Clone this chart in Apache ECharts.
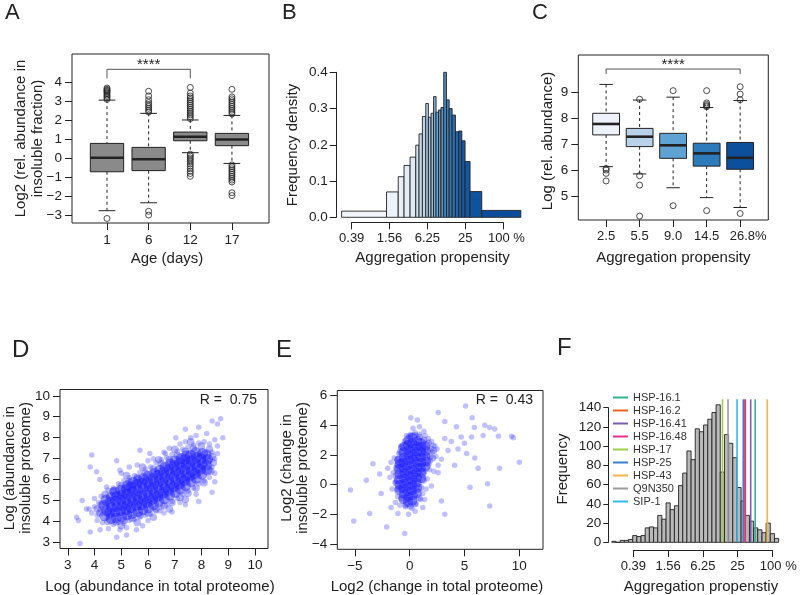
<!DOCTYPE html>
<html><head><meta charset="utf-8">
<script src="https://cdn.jsdelivr.net/npm/echarts@6/dist/echarts.min.js"></script>
<style>html,body{margin:0;padding:0;background:#fff}#c{width:800px;height:595px}</style>
</head><body><div id="c"></div><script>
// ================= DATA =================
// Panel A : insoluble fraction by age
const ageLabels = ['1', '6', '12', '17'];
const ageBoxes = [ // [lower whisker, Q1, median, Q3, upper whisker]
  [-2.77, -0.71, 0.03, 0.79, 3.08],
  [-2.35, -0.65, -0.05, 0.58, 2.38],
  [0.30, 0.93, 1.14, 1.39, 2.03],
  [-0.27, 0.67, 1.00, 1.32, 2.27]
];
const ageOutliers = [
  [3.12, 3.2, 3.28, 3.35, 3.42, 3.5, 3.55, 3.6, 3.65, 3.72, -3.18],
  [2.45, 2.55, 2.65, 2.75, 2.85, 2.95, 3.1, 3.3, 3.55, -2.8, -3.0],
  [2.1, 2.2, 2.3, 2.4, 2.5, 2.6, 2.7, 2.8, 2.9, 3.0, 3.1, 3.2, 3.3, 3.45, 3.75, 0.22, 0.12, 0.02, -0.08, -0.18, -0.3, -0.42, -0.55, -0.68, -0.8, -0.95],
  [2.35, 2.45, 2.55, 2.65, 2.75, 2.85, 2.95, 3.05, 3.15, 3.25, 3.65, -0.35, -0.45, -0.55, -0.65, -0.75, -0.85, -0.95, -1.05, -1.15, -1.25, -1.82, -1.97]
];
const ageSignif = [[1, 4.23], [1, 4.71], [3, 4.71], [3, 4.23]];

// Panel B : aggregation propensity histogram (variable bins, % scale)
const propTicks = [0.390625, 1.5625, 6.25, 25, 100];
const propTickLabels = ['0.39', '1.56', '6.25', '25', '100 %'];
const bEdges = [0.27, 1.40, 2.15, 2.66, 3.32, 4.09, 4.61, 5.21, 5.90, 6.49, 7.16, 7.85, 8.60, 9.42, 10.3, 11.4, 12.6, 13.9, 15.5, 17.5, 19.8, 22.1, 24.9, 29.9, 45.9, 192];
const bDensity = [0.017, 0.070, 0.112, 0.143, 0.166, 0.199, 0.230, 0.278, 0.314, 0.276, 0.287, 0.333, 0.290, 0.296, 0.303, 0.400, 0.324, 0.300, 0.282, 0.236, 0.238, 0.211, 0.154, 0.071, 0.019];

// Panel C : abundance by aggregation-propensity group
const groupLabels = ['2.5', '5.5', '9.0', '14.5', '26.8%'];
const groupBoxes = [
  [6.13, 7.35, 7.77, 8.18, 9.29],
  [5.85, 6.90, 7.28, 7.60, 8.69],
  [5.32, 6.45, 6.95, 7.41, 8.80],
  [4.94, 6.15, 6.64, 7.03, 8.40],
  [4.56, 6.03, 6.47, 7.06, 8.67]
];
const groupOutliers = [
  [6.06, 6.0, 5.87, 5.58],
  [8.72, 5.78, 5.42, 4.23],
  [9.05, 4.63],
  [9.05, 8.58, 8.52, 8.47, 8.43, 4.44],
  [9.2, 8.92, 8.7, 4.33]
];
const groupSignif = [[1, 9.69], [1, 9.88], [5, 9.88], [5, 9.69]];

// Panel D : abundance insoluble vs total (dense core, rim, surrounding points)
const dCore = [
  [4.38,4.27],[4.45,4.52],[4.36,4.78],[4.43,5.02],
  [4.62,4.14],[4.57,4.41],[4.64,4.66],[4.58,4.92],[4.63,5.16],
  [4.81,4.18],[4.77,4.47],[4.84,4.71],[4.79,4.97],[4.83,5.21],[4.76,5.41],
  [5.02,4.23],[4.97,4.52],[5.04,4.76],[4.99,5.02],[5.03,5.27],[4.98,5.49],
  [5.21,4.31],[5.18,4.57],[5.23,4.81],[5.17,5.06],[5.22,5.31],[5.19,5.54],[5.24,5.72],
  [5.41,4.38],[5.37,4.66],[5.43,4.91],[5.38,5.14],[5.42,5.41],[5.36,5.64],[5.44,5.86],
  [5.62,4.48],[5.58,4.77],[5.63,5.01],[5.57,5.26],[5.61,5.49],[5.59,5.76],[5.64,5.96],
  [5.81,4.56],[5.77,4.81],[5.83,5.06],[5.78,5.29],[5.82,5.56],[5.79,5.81],[5.84,6.04],
  [6.02,4.66],[5.97,4.91],[6.03,5.14],[5.98,5.41],[6.04,5.66],[5.99,5.89],[6.01,6.16],
  [6.21,4.79],[6.18,5.06],[6.23,5.29],[6.17,5.56],[6.22,5.79],[6.19,6.06],[6.24,6.29],
  [6.41,4.96],[6.37,5.21],[6.43,5.44],[6.38,5.71],[6.42,5.94],[6.39,6.21],[6.44,6.44],
  [6.61,5.09],[6.58,5.36],[6.63,5.59],[6.57,5.86],[6.62,6.09],[6.59,6.36],[6.64,6.59],
  [6.81,5.26],[6.77,5.49],[6.83,5.76],[6.78,5.99],[6.82,6.26],[6.79,6.49],[6.84,6.74],
  [7.02,5.39],[6.97,5.66],[7.03,5.89],[6.98,6.16],[7.04,6.39],[6.99,6.66],[7.01,6.89],
  [7.21,5.56],[7.18,5.79],[7.23,6.06],[7.17,6.29],[7.22,6.56],[7.19,6.79],[7.24,7.01],
  [7.41,5.71],[7.37,5.96],[7.43,6.19],[7.38,6.46],[7.42,6.69],[7.39,6.96],[7.44,7.14],
  [7.61,5.91],[7.57,6.16],[7.63,6.39],[7.58,6.66],[7.62,6.89],[7.59,7.16],
  [7.81,6.06],[7.77,6.29],[7.83,6.56],[7.78,6.79],[7.82,7.06],[7.79,7.29],
  [8.02,6.26],[7.97,6.49],[8.03,6.76],[7.98,6.99],[8.04,7.24],
  [8.21,6.46],[8.18,6.69],[8.23,6.96],[8.17,7.19]
];
const dRim = [
  [4.5,4.0],[4.8,3.98],[5.1,4.05],[5.4,4.15],[5.7,4.3],[6.0,4.4],[6.3,4.6],[6.6,4.75],[6.9,4.9],[7.2,5.15],
  [7.5,5.35],[7.8,5.6],[8.1,5.85],[5.0,3.8],[5.6,3.95],[6.2,4.2],[6.8,4.6],[7.4,5.05],
  [4.4,5.3],[4.7,5.45],[5.0,5.7],[5.3,5.9],[5.6,6.1],[5.9,6.3],[6.2,6.5],[6.5,6.75],[6.8,6.95],[7.1,7.15],
  [7.4,7.35],[7.7,7.5],[8.0,7.6],[8.3,7.45],[5.2,6.2],[5.8,6.6],[6.4,6.95],[7.0,7.45],[7.6,7.8],
  [4.2,4.4],[4.25,4.8],[4.1,4.6],[8.45,6.8],[8.4,7.1],[8.35,6.4]
];
const dPoints = [
  [3.9,4.4],[4.0,4.7],[4.1,4.3],[4.15,4.9],[4.2,4.55],[4.0,5.1],[3.8,4.6],[4.25,5.2],[4.3,3.95],[4.1,4.05],
  [4.7,3.85],[4.9,3.95],[5.1,3.9],[5.3,4.05],[5.5,4.1],[5.7,4.2],[5.9,4.3],[6.1,4.35],[6.3,4.5],[6.5,4.65],
  [6.7,4.8],[6.9,4.95],[7.1,5.1],[7.3,5.3],[7.5,5.45],[7.7,5.6],[7.9,5.8],[8.1,5.95],[8.3,6.1],[5.2,3.7],
  [6.0,4.05],[6.6,4.4],[7.2,4.9],[7.8,5.3],
  [4.5,5.5],[4.7,5.6],[4.9,5.8],[5.1,5.95],[5.3,6.1],[5.5,6.2],[5.7,6.35],[5.9,6.5],[6.1,6.6],[6.3,6.8],
  [6.5,6.95],[6.7,7.05],[6.9,7.2],[7.1,7.35],[7.3,7.45],[7.5,7.55],[7.7,7.65],[7.9,7.75],[8.1,7.8],[8.3,7.7],
  [5.0,6.3],[5.6,6.7],[6.2,7.0],[6.8,7.5],[7.4,7.8],[7.8,8.1],[8.2,8.2],[5.3,6.6],[6.0,6.9],[6.6,7.3],
  [7.2,7.7],[7.6,8.0],[8.4,6.6],[8.5,7.0],[8.4,7.3],[8.6,7.6],[8.5,6.3],[8.3,6.9],
  [3.46,2.95],[3.9,7.17],[3.84,6.6],[4.08,6.37],[3.54,5.0],[3.7,4.6],[3.33,4.2],[3.4,4.05],[3.84,3.5],[4.21,3.6],
  [4.52,3.65],[4.83,3.25],[5.2,3.35],[4.95,3.6],[5.57,3.6],[5.8,3.8],[6.44,4.5],[6.9,4.45],[7.4,4.8],[7.9,4.95],
  [8.4,5.4],[8.5,5.9],[8.6,7.25],[8.5,7.9],[8.72,8.9],[8.4,8.8],[8.6,8.65],[8.8,8.0],[7.9,8.5],[7.4,8.4],
  [7.04,8.0],[6.65,7.25],[4.83,6.9],[4.95,6.45],[5.7,7.4],[6.07,7.25],[4.2,6.0],[4.45,5.65]
];

// Panel E : change insoluble vs change total
const eCore = [
  [-0.95,-0.38],[-0.92,-0.02],[-0.97,0.33],[-0.93,0.69],[-0.96,1.03],[-0.91,1.38],[-0.94,1.62],
  [-0.55,-0.98],[-0.52,-0.63],[-0.57,-0.27],[-0.53,0.07],[-0.56,0.43],[-0.51,0.78],[-0.54,1.12],[-0.58,1.48],[-0.52,1.83],[-0.55,2.17],[-0.5,2.55],
  [-0.15,-1.18],[-0.12,-0.84],[-0.17,-0.47],[-0.13,-0.13],[-0.16,0.22],[-0.11,0.58],[-0.14,0.92],[-0.18,1.27],[-0.12,1.62],[-0.15,1.97],[-0.1,2.33],[-0.16,2.66],[-0.13,2.98],
  [0.25,-1.08],[0.28,-0.73],[0.23,-0.38],[0.27,-0.03],[0.24,0.32],[0.29,0.67],[0.26,1.02],[0.22,1.37],[0.28,1.72],[0.25,2.07],[0.3,2.43],[0.24,2.78],[0.27,3.15],
  [0.65,-0.58],[0.68,-0.22],[0.63,0.12],[0.67,0.47],[0.64,0.83],[0.69,1.17],[0.66,1.52],[0.62,1.88],[0.68,2.22],[0.65,2.57],[0.7,2.93],
  [1.05,0.42],[1.08,0.78],[1.03,1.13],[1.07,1.47],[1.04,1.83],[1.09,2.18],[1.06,2.52],[1.02,2.81],
  [1.45,1.22],[1.48,1.58],[1.43,1.92],[1.47,2.27],[1.44,2.6]
];
const eRim = [
  [-1.25,0.1],[-1.25,0.6],[-1.2,1.1],[-1.1,1.7],[-0.85,2.2],[-0.75,-0.9],[-0.35,-1.35],[0.05,-1.45],[0.45,-1.3],[0.85,-0.9],
  [1.0,-0.2],[1.25,0.3],[1.3,0.9],[1.7,1.4],[1.85,1.9],[1.9,2.4],[1.7,2.8],[1.3,3.0],[0.9,3.2],[0.5,3.3],
  [0.0,3.25],[-0.4,2.9],[-0.75,2.5],[-1.05,-0.3],[2.1,1.8],[2.2,2.3]
];
const ePoints = [
  [-1.3,0.2],[-1.5,0.8],[-1.2,1.3],[-1.6,-0.3],[-1.4,1.8],[-1.1,-0.8],[-1.8,0.5],[-2.0,1.1],[-1.3,-1.2],[-0.9,-1.4],
  [-1.0,2.1],[-0.8,2.6],[-1.7,1.5],[1.6,0.4],[1.8,1.0],[1.9,1.6],[2.1,2.2],[2.3,2.6],[2.0,2.9],[1.7,3.1],
  [1.4,3.3],[2.4,1.9],[2.5,2.4],[1.5,-0.3],[1.2,-0.6],[2.2,0.9],[2.6,1.3],[1.3,3.6],[0.9,3.4],[0.5,3.5],
  [0.1,3.4],[-0.3,3.3],[1.0,-1.0],[0.6,-1.3],[-0.4,-1.5],[0.2,-1.6],[-0.1,-2.0],[0.5,-1.8],[0.9,3.9],[0.3,3.8],
  [-5.4,-0.36],[-5.1,-2.45],[-3.65,-1.95],[-3.95,0.3],[-3.35,1.4],[-2.74,0.72],[-2.1,-2.85],[-2.6,-0.6],[-1.7,-1.55],[-1.07,-1.95],
  [-0.45,-3.3],[0.1,4.5],[0.7,4.35],[2.6,4.85],[3.2,4.25],[4.27,3.9],[5.1,5.3],[5.7,4.5],[5.9,3.85],[6.85,4.0],
  [7.3,3.85],[7.76,3.75],[8.1,3.25],[9.3,3.25],[9.45,3.15],[10.0,1.5],[8.2,1.1],[7.1,0.05],[7.3,-1.45],[5.5,-0.18],
  [6.24,1.1],[5.94,1.8],[5.2,2.1],[5.0,2.78],[4.7,3.2],[4.4,2.4],[4.1,1.3],[3.5,2.3],[3.2,3.1],[3.8,2.9],
  [2.6,0.8],[2.9,-1.1],[3.2,-2.0],[1.98,-0.1],[1.37,-1.0],[1.2,-1.55],[2.9,1.7],[2.15,2.65],[5.64,3.2],[6.7,3.3]
];

// Panel F : aggregation propensity histogram (log-spaced bins) + chaperones
const fCounts = [1,0,2,2,3,7,6,7,15,16,15,28,24,41,34,38,59,72,95,86,118,115,122,128,135,143,73,112,103,88,57,43,28,22,15,13,10,20,9,4];
const fFirstBreakPct = 0.166;   // lower edge of first bin (%)
const fBinLog4 = 0.12;          // bin width in log4 units
const chaperones = ['HSP-16.1', 'HSP-16.2', 'HSP-16.41', 'HSP-16.48', 'HSP-17', 'HSP-25', 'HSP-43', 'Q9N350', 'SIP-1'];
const chaperoneProp = [50.6, 32.7, 42.2, 34.1, 13.7, 31.4, 81.9, 17.1, 24.5];
const fLineTop = 148.7;

// ================= STYLE =================
const FONT = '"Liberation Sans", Arial, Helvetica, sans-serif';
const INK = '#222';
const chapColors = ['#35b38f', '#e8641e', '#7b5cb3', '#e8308f', '#9ccf4c', '#3f7fd0', '#f3b44a', '#9c9c9c', '#33b8ec'];
const groupColors = ['#eef2fb', '#b9d2ea', '#5ea3d4', '#2d7bbb', '#0c4f9c'];
const L4 = p => Math.log(p / 100) / Math.log(4);
const minus = v => String(v).replace('-', '\u2212');

function hexToRgb(h) { return [1, 3, 5].map(i => parseInt(h.substr(i, 2), 16)); }
function ramp(stops, t) {
  const n = stops.length - 1, s = Math.min(n - 1e-9, Math.max(0, t * n)), i = Math.floor(s), f = s - i;
  const a = hexToRgb(stops[i]), b = hexToRgb(stops[i + 1]);
  return 'rgb(' + a.map((v, k) => Math.round(v + (b[k] - v) * f)).join(',') + ')';
}
const bRamp = ['#f1f5fb', '#dfe9f5', '#b3cde6', '#6ea6d3', '#3b7fbd', '#1a5fa6', '#0b4d9b'];

function ax(gridIndex, min, max, ticks, fmt, o) {
  o = o || {};
  return {
    type: 'value', gridIndex, min, max, offset: o.offset || 0,
    axisLine: { show: !!o.line, onZero: false, lineStyle: { color: INK, width: 1 } },
    axisTick: { show: true, customValues: ticks, length: o.tick || 7, inside: false, lineStyle: { color: INK, width: 1 } },
    axisLabel: { customValues: ticks, formatter: fmt, margin: o.margin || 10, fontSize: o.fs || 13.5, color: INK, fontFamily: FONT, rich: o.rich || {} },
    splitLine: { show: false }, splitArea: { show: false }
  };
}

function boxSeries(gi, stats, fill, boxW) {
  return {
    type: 'custom', xAxisIndex: gi, yAxisIndex: gi, clip: false, silent: true,
    encode: { x: 0, y: [1, 2, 3, 4, 5] },
    data: stats.map((s, i) => [i + 1].concat(s)),
    renderItem: function (params, api) {
      const x = api.value(0);
      const lo = api.coord([x, api.value(1)]), q1 = api.coord([x, api.value(2)]), md = api.coord([x, api.value(3)]),
            q3 = api.coord([x, api.value(4)]), hi = api.coord([x, api.value(5)]);
      const w = api.size([boxW, 0])[0], cx = md[0], h = w / 2, c = w / 4;
      const ln = (x1, y1, x2, y2, st) => ({ type: 'line', shape: { x1, y1, x2, y2 }, style: Object.assign({ stroke: INK, lineWidth: 1 }, st || {}) });
      return { type: 'group', children: [
        ln(cx, hi[1], cx, q3[1], { lineDash: [3, 3] }),
        ln(cx, q1[1], cx, lo[1], { lineDash: [3, 3] }),
        ln(cx - c, hi[1], cx + c, hi[1]),
        ln(cx - c, lo[1], cx + c, lo[1]),
        { type: 'rect', shape: { x: cx - h, y: q3[1], width: w, height: q1[1] - q3[1] }, style: { fill: fill(params.dataIndex), stroke: INK, lineWidth: 1 } },
        ln(cx - h, md[1], cx + h, md[1], { lineWidth: 2.6 })
      ] };
    }
  };
}
function outlierSeries(gi, outs, size) {
  const data = [];
  outs.forEach((arr, i) => arr.forEach(v => data.push([i + 1, v])));
  return { type: 'scatter', xAxisIndex: gi, yAxisIndex: gi, silent: true, symbol: 'circle', symbolSize: size,
    itemStyle: { color: 'rgba(0,0,0,0)', borderColor: INK, borderWidth: 1 }, data };
}
function bracketSeries(gi, pts) {
  return { type: 'line', xAxisIndex: gi, yAxisIndex: gi, silent: true, symbol: 'none', clip: false,
    lineStyle: { color: '#555', width: 1 }, data: pts };
}
function starsSeries(gi, pts) {
  return { type: 'custom', xAxisIndex: gi, yAxisIndex: gi, silent: true, clip: false,
    data: [[(pts[1][0] + pts[2][0]) / 2, pts[1][1]]],
    renderItem: (params, api) => {
      const p = api.coord([api.value(0), api.value(1)]);
      return { type: 'text', x: p[0], y: p[1] + 3, style: { text: '****', fontSize: 15, fontFamily: FONT, fill: INK, align: 'center', verticalAlign: 'bottom', textAlign: 'center', textVerticalAlign: 'bottom' } };
    } };
}
function histSeries(gi, bins, fillFn, lw) {
  return { type: 'custom', xAxisIndex: gi, yAxisIndex: gi, silent: true, clip: false,
    encode: { x: [0, 1], y: 2 }, data: bins,
    renderItem: (params, api) => {
      const a = api.coord([api.value(0), api.value(2)]), b = api.coord([api.value(1), 0]);
      return { type: 'rect', shape: { x: a[0], y: a[1], width: b[0] - a[0], height: b[1] - a[1] },
        style: { fill: fillFn(params.dataIndex), stroke: INK, lineWidth: lw } };
    } };
}
function scatterSeries(gi, pts, size, color) {
  return { type: 'scatter', xAxisIndex: gi, yAxisIndex: gi, silent: true, symbol: 'circle', symbolSize: size,
    itemStyle: { color, borderWidth: 0 }, data: pts, large: false };
}

// histogram bins
const bBins = bDensity.map((d, i) => [L4(bEdges[i]), L4(bEdges[i + 1]), d]);
const f0 = L4(fFirstBreakPct);
const fBins = fCounts.map((c, i) => [f0 + i * fBinLog4, f0 + (i + 1) * fBinLog4, c]);

const propTickU = propTicks.map(L4);
const propFmt = v => { const i = propTickU.findIndex(u => Math.abs(u - v) < 1e-6); const s = propTickLabels[i]; return i === propTickLabels.length - 1 ? '{pad| }' + s : s; };

const gridBase = { show: false, containLabel: false, outerBoundsMode: 'none' };
const framed = { show: true, borderColor: INK, borderWidth: 1, backgroundColor: 'rgba(0,0,0,0)', containLabel: false, outerBoundsMode: 'none' };

const grids = [
  Object.assign({ left: 72, top: 54, width: 197, height: 169 }, framed),
  Object.assign({ left: 351.7, top: 72.3, width: 151.3, height: 145 }, gridBase),
  Object.assign({ left: 578.3, top: 55, width: 190, height: 165 }, framed),
  Object.assign({ left: 60, top: 389.5, width: 208, height: 159 }, framed),
  Object.assign({ left: 337.3, top: 390.5, width: 205.7, height: 158.8 }, framed),
  Object.assign({ left: 633.3, top: 407.7, width: 139, height: 134.6 }, gridBase)
];

const xAxes = [
  ax(0, 0.16, 4.89, [1, 2, 3, 4], v => ageLabels[Math.round(v) - 1]),
  ax(1, -4, 0, propTickU, propFmt, { line: true, offset: 5, margin: 10, fs: 13, rich: { pad: { width: 7 } } }),
  ax(2, 0.17, 5.84, [1, 2, 3, 4, 5], v => { const i = Math.round(v) - 1; return i === 4 ? '{pad| }' + groupLabels[i] : groupLabels[i]; }, { rich: { pad: { width: 16 } }, fs: 13 }),
  ax(3, 2.71, 10.49, [3, 4, 5, 6, 7, 8, 9, 10], v => String(v)),
  ax(4, -6.6, 12.16, [-5, 0, 5, 10], minus),
  ax(5, -4, 0, propTickU, propFmt, { line: true, offset: 7.7, margin: 10, fs: 13, rich: { pad: { width: 12 } } })
];
const yAxes = [
  ax(0, -3.42, 5.52, [-3, -2, -1, 0, 1, 2, 3, 4], minus),
  ax(1, 0, 0.4, [0, 0.1, 0.2, 0.3, 0.4], v => v.toFixed(1), { line: true, offset: 15, margin: 9 }),
  ax(2, 4.08, 10.42, [5, 6, 7, 8, 9], v => String(v)),
  ax(3, 2.71, 10.3, [3, 4, 5, 6, 7, 8, 9, 10], v => String(v)),
  ax(4, -4.36, 6.34, [-4, -2, 0, 2, 4, 6], minus),
  ax(5, 0, 140, [0, 20, 40, 60, 80, 100, 120, 140], v => String(v), { line: true, offset: 25, tick: 5, margin: 7 })
];

const BLUE_CORE = 'rgba(20,20,255,0.55)';
const BLUE_RIM = 'rgba(30,30,255,0.4)';
const BLUE_PT = 'rgba(40,40,255,0.36)';
const series = [
  boxSeries(0, ageBoxes, () => '#8a8a8a', 0.8),
  outlierSeries(0, ageOutliers, 6),
  bracketSeries(0, ageSignif),
  starsSeries(0, ageSignif),
  histSeries(1, bBins, i => ramp(bRamp, i / (bBins.length - 1)), 0.9),
  boxSeries(2, groupBoxes, i => groupColors[i], 0.8),
  outlierSeries(2, groupOutliers, 6),
  bracketSeries(2, groupSignif),
  starsSeries(2, groupSignif),
  scatterSeries(3, dPoints, 5.5, BLUE_PT),
  scatterSeries(3, dRim, 7.5, BLUE_RIM),
  scatterSeries(3, dCore, 11, BLUE_CORE),
  scatterSeries(4, ePoints, 5.5, BLUE_PT),
  scatterSeries(4, eRim, 7, BLUE_RIM),
  scatterSeries(4, eCore, 10, BLUE_CORE),
  histSeries(5, fBins, () => '#b9b9b9', 0.9)
];
chaperones.forEach((name, i) => {
  const u = L4(chaperoneProp[i]);
  series.push({ type: 'line', name, xAxisIndex: 5, yAxisIndex: 5, silent: true, symbol: 'none', clip: false,
    itemStyle: { color: chapColors[i] }, lineStyle: { color: chapColors[i], width: 1.6 },
    data: [[u, 0], [u, fLineTop]] });
});

function txt(x, y, text, size, o) {
  o = o || {};
  const al = o.align || 'center', va = o.valign || 'middle';
  return { type: 'text', x, y, rotation: o.rot || 0, silent: true, z: 100,
    style: { text, fontSize: size, fontFamily: FONT, fill: INK, align: al, verticalAlign: va, textAlign: al, textVerticalAlign: va, lineHeight: o.lh || size } };
}
const R90 = Math.PI / 2;
const graphics = [
  txt(5, 12.5, 'A', 22, { align: 'left' }),
  txt(282, 12.5, 'B', 22, { align: 'left' }),
  txt(532, 12.5, 'C', 22, { align: 'left' }),
  txt(12, 350, 'D', 24, { align: 'left' }),
  txt(276, 350, 'E', 24, { align: 'left' }),
  txt(557, 348, 'F', 24, { align: 'left' }),
  txt(29, 138.5, 'Log2 (rel. abundance in\ninsoluble fraction)', 15, { rot: R90, lh: 17 }),
  txt(167, 259, 'Age (days)', 15),
  txt(293, 145, 'Frequency density', 15, { rot: R90 }),
  txt(432.5, 258, 'Aggregation propensity', 15),
  txt(547.5, 141, 'Log (rel. abundance)', 15, { rot: R90 }),
  txt(673.3, 257.5, 'Aggregation propensity', 15),
  txt(17.5, 468, 'Log (abundance in\ninsoluble proteome)', 15, { rot: R90, lh: 16 }),
  txt(160, 586.5, 'Log (abundance in total proteome)', 15),
  txt(294.5, 468, 'Log2 (change in\ninsoluble proteome)', 15, { rot: R90, lh: 16 }),
  txt(437, 586.5, 'Log2 (change in total proteome)', 15),
  txt(563, 469, 'Frequency', 15, { rot: R90 }),
  txt(701, 586.5, 'Aggregation propenstiy', 15),
  txt(257, 400.5, 'R =  0.75', 14, { align: 'right' }),
  txt(533, 400.5, 'R =  0.43', 14, { align: 'right' })
];

const chart = echarts.init(document.getElementById('c'), null, { renderer: 'canvas', width: 800, height: 595 });
chart.setOption({
  animation: false,
  backgroundColor: '#fff',
  textStyle: { fontFamily: FONT },
  grid: grids, xAxis: xAxes, yAxis: yAxes, series,
  legend: {
    data: chaperones, orient: 'vertical', left: 613, top: 391.5, icon: 'rect', itemWidth: 15, itemHeight: 2,
    itemGap: 1, selectedMode: false, padding: 0,
    textStyle: { fontSize: 11, color: '#333', fontFamily: FONT, lineHeight: 12 }
  },
  graphic: { elements: graphics }
});
</script></body></html>
